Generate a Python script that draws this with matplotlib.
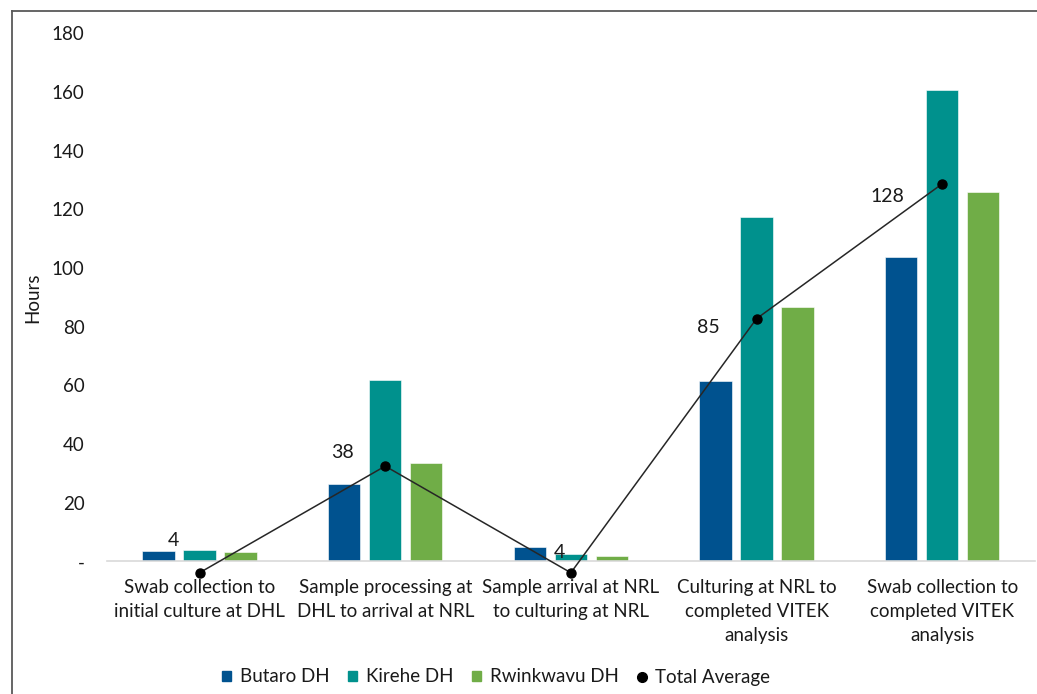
import matplotlib
matplotlib.use("Agg")
import matplotlib.pyplot as plt
import numpy as np
from matplotlib.lines import Line2D

categories = [
    "Swab collection to\ninitial culture at DHL",
    "Sample processing at\nDHL to arrival at NRL",
    "Sample arrival at NRL\nto culturing at NRL",
    "Culturing at NRL to\ncompleted VITEK\nanalysis",
    "Swab collection to\ncompleted VITEK\nanalysis",
]
butaro = [3.6, 26.3, 4.9, 61.4, 103.7]
kirehe = [3.7, 61.7, 2.6, 117.5, 160.6]
rwinkwavu = [3.3, 33.6, 1.9, 86.7, 125.9]
total_avg = [4, 38, 4, 85, 128]
series_names = ["Butaro DH", "Kirehe DH", "Rwinkwavu DH"]
series_colors = ["#00528F", "#00918D", "#70AD47"]
yticks = [0, 20, 40, 60, 80, 100, 120, 140, 160, 180]
ytick_labels = ["-", "20", "40", "60", "80", "100", "120", "140", "160", "180"]
label_offsets_px = [(-26, 32), (-43, 14), (-11, 20), (-48, -9), (-55, -13)]

plt.rcParams['font.family'] = ['Lato', 'DejaVu Sans']
FS = 13.5

fig = plt.figure(figsize=(10.37, 6.94), dpi=100)
W, H = 1037, 694
ax = fig.add_axes([106.7 / W, 1 - 561.3 / H, 928.3 / W, 528 / H])

x = np.arange(len(categories))
width = 0.175
step = 0.221
for i, (vals, name, col) in enumerate(zip([butaro, kirehe, rwinkwavu], series_names, series_colors)):
    ax.bar(x + (i - 1) * step, vals, width, color=col, label=name,
           edgecolor="white", linewidth=0.4, zorder=2)

ax.set_xlim(-0.5, len(categories) - 0.5)
ax.set_ylim(0, 180)
ax.set_yticks(yticks)
ax.set_yticklabels(ytick_labels, fontsize=FS, color="#1a1a1a")
ax.set_xticks(x)
ax.set_xticklabels(categories, fontsize=FS, color="#1a1a1a", linespacing=1.5)
ax.tick_params(axis='y', length=0, pad=16)
ax.tick_params(axis='x', length=0, pad=13)
for s in ["top", "right", "left"]:
    ax.spines[s].set_visible(False)
ax.spines["bottom"].set_color("#D9D9D9")
ax.spines["bottom"].set_linewidth(1.2)
ax.set_ylabel("Hours", fontsize=FS, color="#1a1a1a")
ax.yaxis.set_label_coords(-0.071, 0.5)

ax2 = ax.twinx()
ax2.set_ylim(7.65, 176.0)
ax2.plot(x, total_avg, color="#262626", linewidth=1.1, marker="o",
         markersize=6.5, markerfacecolor="black", markeredgecolor="black",
         zorder=3, clip_on=False)
ax2.axis("off")
for xi, v, off in zip(x, total_avg, label_offsets_px):
    ax2.annotate(f"{v}", (xi, v), xytext=off, textcoords="offset pixels",
                 ha="center", va="center", fontsize=FS + 0.5, color="#1a1a1a",
                 annotation_clip=False)

handles = [plt.Rectangle((0, 0), 1, 1, color=c) for c in series_colors]
handles.append(Line2D([], [], color="none", marker="o", markerfacecolor="black",
                      markeredgecolor="black", markersize=7))
fig.legend(handles, series_names + ["Total Average"], loc="center",
           bbox_to_anchor=(496 / W, 1 - 677 / H), ncol=4, frameon=False,
           fontsize=FS, handlelength=0.5, handleheight=0.5, handletextpad=0.45,
           columnspacing=1.0, labelcolor="#1a1a1a")

# outer chart frame (cropped at right and bottom)
fig.add_artist(Line2D([12 / W, 12 / W], [0, 1 - 11 / H], transform=fig.transFigure,
                      color="#595959", linewidth=1.3))
fig.add_artist(Line2D([12 / W, 1], [1 - 11 / H, 1 - 11 / H], transform=fig.transFigure,
                      color="#595959", linewidth=1.3))

fig.savefig("out.png", dpi=100)
